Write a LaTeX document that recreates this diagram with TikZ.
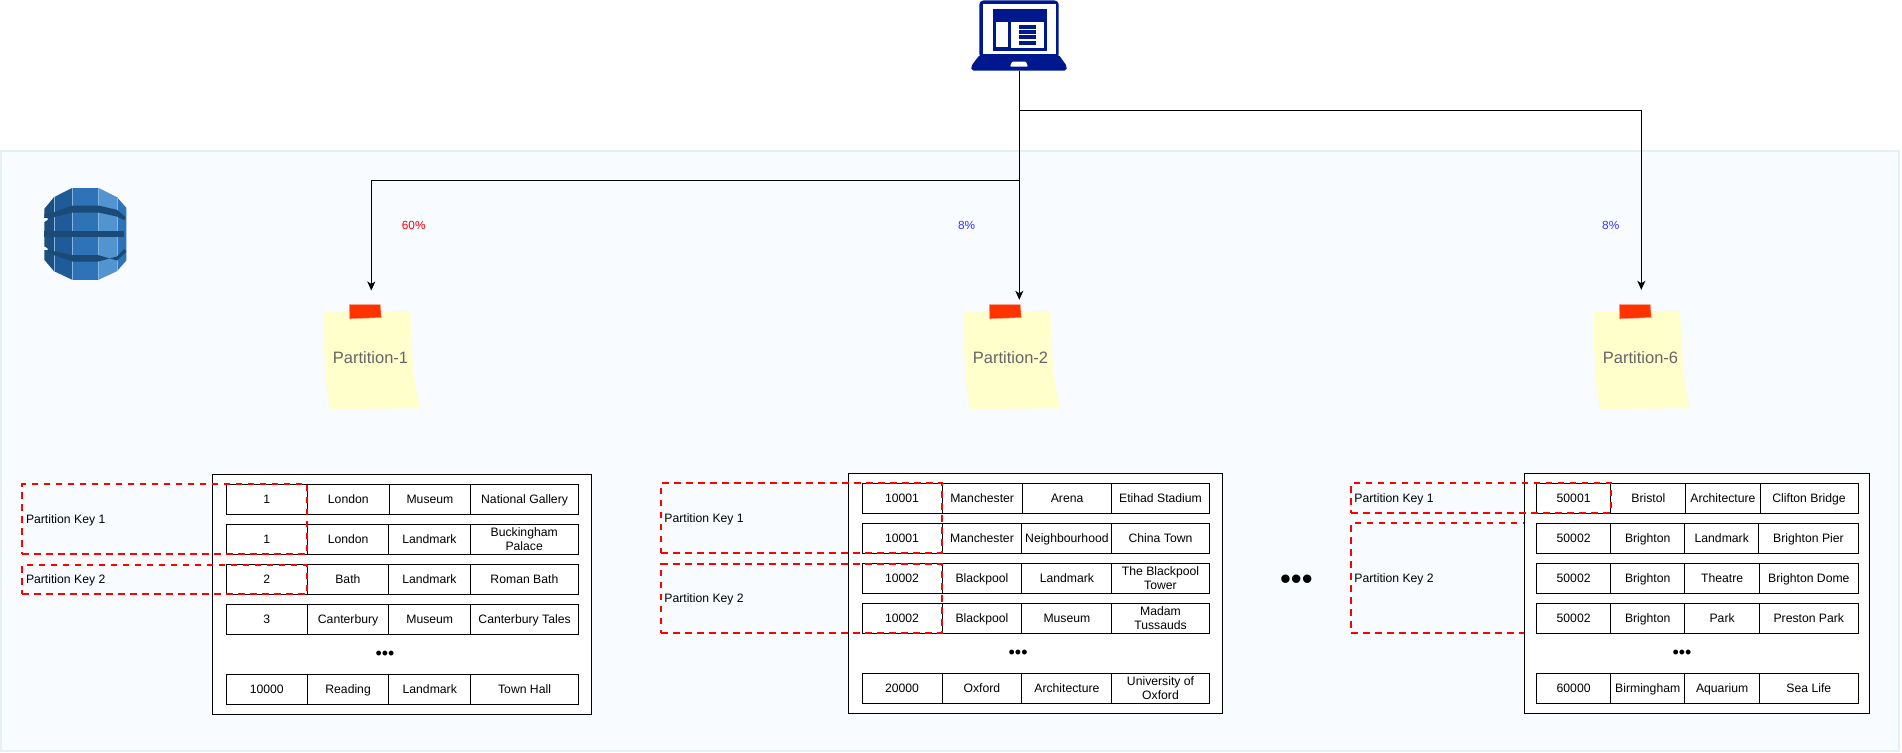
\documentclass[tikz,border=0pt]{standalone}
\usepackage{fontspec}
\setmainfont{Liberation Sans}
\usetikzlibrary{arrows.meta}
\definecolor{panelfill}{HTML}{F8FBFF}
\definecolor{panelline}{HTML}{E6EEF8}
\definecolor{navy}{HTML}{00188D}
\definecolor{notefill}{HTML}{FFFFCC}
\definecolor{tape}{HTML}{FF3300}
\definecolor{notetext}{HTML}{666666}
\definecolor{pctblue}{HTML}{3333FF}
\definecolor{dbdark}{HTML}{1A4A75}
\definecolor{dbedge}{HTML}{1C4F80}
\definecolor{dbleft}{HTML}{205B99}
\definecolor{dbmid}{HTML}{2E73B8}
\definecolor{dblight}{HTML}{5294CF}
\newcommand{\mystrut}{\rule[-2.6pt]{0pt}{14pt}}
\tikzset{
  cell/.style={draw=black,line width=1pt,fill=white,inner sep=0pt,outer sep=0pt,align=center,anchor=north west,
    font=\fontsize{12.2}{14}\selectfont},
  outerbox/.style={draw=black,line width=1pt,fill=white,inner sep=0pt,outer sep=0pt,anchor=north west},
  keybox/.style={draw=red,line width=2pt,dash pattern=on 6.5pt off 5.5pt,inner sep=0pt,outer sep=0pt,anchor=north west},
  keylabel/.style={anchor=west,inner sep=0pt,outer sep=0pt,font=\fontsize{12.2}{14}\selectfont},
  conn/.style={draw=black,line width=1pt,-{Stealth[length=9pt,width=8pt,inset=2.5pt]}},
  pct/.style={inner sep=0pt,outer sep=0pt,font=\fontsize{11.8}{14}\selectfont},
  notetxt/.style={inner sep=0pt,outer sep=0pt,text=notetext,font=\fontsize{16.5}{20}\selectfont},
  dots/.style={inner sep=0pt,outer sep=0pt,font=\fontsize{18}{18}\selectfont},
  bigdots/.style={inner sep=0pt,outer sep=0pt,font=\fontsize{31}{31}\selectfont},
}
% \trow{prefix}{y}{x0}{x1}{x2}{x3}{x4}{a}{b}{c}{d}
\newcommand{\trow}[9]{%
  \def\myrp{#1}\def\myry{#2}\def\myxa{#3}\def\myxb{#4}\def\myxc{#5}\def\myxd{#6}\def\myxe{#7}%
  \def\myta{#8}\def\mytb{#9}\trowcont}
\newcommand{\trowcont}[2]{%
  \pgfmathsetmacro{\mywa}{\myxb-\myxa}\pgfmathsetmacro{\mywb}{\myxc-\myxb}%
  \pgfmathsetmacro{\mywc}{\myxd-\myxc}\pgfmathsetmacro{\mywd}{\myxe-\myxd}%
  \node[cell,minimum height=30pt,minimum width=\mywa pt] (\myrp a) at (\myxa,\myry) {\mystrut\myta};
  \node[cell,minimum height=30pt,minimum width=\mywb pt] (\myrp b) at (\myxb,\myry) {\mystrut\mytb};
  \node[cell,minimum height=30pt,minimum width=\mywc pt] (\myrp c) at (\myxc,\myry) {\mystrut#1};
  \node[cell,minimum height=30pt,minimum width=\mywd pt] (\myrp d) at (\myxd,\myry) {\mystrut#2};
}
% \stickynote{name}{dx}{text}
\newcommand{\stickynote}[3]{%
  \begin{scope}[xshift=#2pt]
    \fill[notefill] (324,312) .. controls (323,345) and (325,382) .. (330,409)
      -- (420,408.3) .. controls (414,385) and (411,350) .. (410.3,310.7) -- cycle;
    \path[fill=tape,draw=tape!50!white,line width=0.5pt] (349.3,304.5) -- (380.3,304.5) -- (381.3,317.5) -- (349.7,318.8) -- cycle;
    \node[notetxt] (#1) at (370.5,357.7) {#3};
  \end{scope}}
\begin{document}
\begin{tikzpicture}[x=1pt,y=-1pt]
\useasboundingbox (0,0) rectangle (1902,752);
\fill[white] (0,0) rectangle (1902,752);
% panel
\node[draw=panelline,fill=panelfill,line width=2pt,inner sep=0pt,outer sep=0pt,anchor=north west,minimum width=1898pt,minimum height=600.5pt] (panel) at (1,150.5) {};

% laptop
\fill[navy,rounded corners=4pt] (979.3,0.5) rectangle (1058.7,58);
\fill[white] (982.7,4) rectangle (1056,54.5);
\fill[navy] (992.7,9.3) rectangle (1047,51);
\fill[white] (995.7,21.7) rectangle (1007.7,47.3);
\fill[white] (1011,21.7) rectangle (1044.3,47.7);
\fill[navy] (1019.3,25) rectangle (1036.3,29);
\fill[navy] (1019.3,30.3) rectangle (1036.3,34.3);
\fill[navy] (1019.3,35.3) rectangle (1036.3,39.3);
\fill[navy] (1019.3,40.7) rectangle (1036.3,44.7);
\fill[navy,rounded corners=2pt] (980,54.5) -- (1058.5,54.5) -- (1066.8,66) -- (1066.5,70.7) -- (971.5,70.7) -- (971.2,66) -- cycle;
\fill[white,rounded corners=1pt] (1012,61.7) -- (1026,61.7) -- (1028,66.7) -- (1010,66.7) -- cycle;
\node[inner sep=0pt,outer sep=0pt,minimum width=95pt,minimum height=70.4pt] (laptop) at (1019.3,35.5) {};

% database icon
\begin{scope}[shift={(35pt,-180.5pt)},x=0.33333pt,y=-0.33333pt]
  \fill[dbedge] (28,85) -- (57,50) -- (57,272) -- (28,238) -- cycle;
  \fill[dbleft] (57,50) -- (112,22) -- (112,298) -- (57,272) -- cycle;
  \fill[dbmid] (112,22) -- (190,22) -- (190,298) -- (112,298) -- cycle;
  \fill[dblight] (190,22) -- (246,50) -- (246,272) -- (190,298) -- cycle;
  \fill[dbmid] (246,50) -- (274,82) -- (274,240) -- (246,272) -- cycle;
  \draw[dblight!70!white,line width=0.5pt] (57,50) -- (57,272) (112,22) -- (112,298) (190,22) -- (190,298) (246,50) -- (246,272);
  \fill[dbdark] (28,100) -- (57,95) -- (112,75) -- (190,75) -- (246,88) -- (272,110) -- (268,119) -- (246,108) -- (190,96) -- (112,96) -- (57,110) -- (28,113) -- cycle;
  \fill[dbdark] (28,151) -- (268,151) -- (268,169) -- (28,169) -- cycle;
  \fill[dbdark] (28,210) -- (57,224) -- (112,243) -- (190,243) -- (246,228) -- (268,205) -- (274,214) -- (246,240) -- (190,224) -- (112,224) -- (57,212) -- (28,206) -- cycle;
  \fill[panelfill] (26,113) -- (38,113) -- (38,118) -- (28,124) -- (26,124) -- cycle;
  \fill[panelfill] (26,198) -- (28,198) -- (38,204) -- (38,209) -- (26,209) -- cycle;
\end{scope}

% sticky notes
\stickynote{part1}{0}{Partition-1}
\stickynote{part2}{640}{Partition-2}
\stickynote{part6}{1270}{Partition-6}

% connectors
\coordinate (jl) at (1019.3,180.3);
\coordinate (jr) at (1019.3,110);
\coordinate (in1) at (371.3,290.5);
\coordinate (in2) at (1019.3,299.8);
\coordinate (in6) at (1641.3,289.8);
\draw[conn] (laptop.south) -- (jl) -| (in1);
\draw[conn] (laptop.south) -- (in2);
\draw[conn] (laptop.south) -- (jr) -| (in6);

% percentages
\node[pct,text=red] (pct1) at (413.7,224.7) {\mystrut 60\%};
\node[pct,text=pctblue] (pct2) at (966.7,225) {\mystrut 8\%};
\node[pct,text=pctblue] (pct6) at (1610.7,225) {\mystrut 8\%};

\begin{scope}[xshift=0.4pt,yshift=-0.7pt]
% table 1
\node[outerbox,minimum width=379.5pt,minimum height=240pt] (tbl1) at (212,473.5) {};
\trow{ra}{483.3}{225.8}{307}{388.8}{470.3}{578}{1}{London}{Museum}{National Gallery}
\trow{rb}{523.3}{225.8}{307}{388.4}{469.6}{578}{1}{London}{Landmark}{Buckingham\\\mystrut Palace}
\trow{rc}{563.3}{225.8}{307}{388}{470}{578}{2}{Bath}{Landmark}{Roman Bath}
\trow{rd}{603.3}{225.8}{307}{388.4}{470.3}{578}{3}{Canterbury}{Museum}{Canterbury Tales}
\trow{re}{673.3}{225.8}{307}{388.4}{470.3}{578}{10000}{Reading}{Landmark}{Town Hall}
\node[dots] (dots1) at (384.6,654.2) {•••};
\node[keybox,minimum width=285pt,minimum height=70pt] (k11) at (22,483.3) {};
\node[keybox,minimum width=285pt,minimum height=29pt] (k12) at (22,564.3) {};
\node[keylabel] (l11) at (25.6,518.7) {\mystrut Partition Key 1};
\node[keylabel] (l12) at (25.6,578.7) {\mystrut Partition Key 2};

% table 2
\node[outerbox,minimum width=373.9pt,minimum height=240pt] (tbl2) at (847.8,472.3) {};
\trow{sa}{482.3}{861.6}{941.6}{1021.9}{1111.5}{1208.7}{10001}{Manchester}{Arena}{Etihad Stadium}
\trow{sb}{522.3}{861.6}{941.6}{1021.5}{1111.5}{1208.7}{10001}{Manchester}{Neighbourhood}{China Town}
\trow{sc}{562.3}{861.6}{941.6}{1021.5}{1111.5}{1208.7}{10002}{Blackpool}{Landmark}{The Blackpool\\\mystrut Tower}
\trow{sd}{602.3}{861.6}{941.6}{1021.5}{1111.5}{1208.7}{10002}{Blackpool}{Museum}{Madam\\\mystrut Tussauds}
\trow{se}{672.3}{861.6}{941.6}{1021.5}{1111.5}{1208.7}{20000}{Oxford}{Architecture}{University of\\\mystrut Oxford}
\node[dots] (dots2) at (1017.7,653.2) {•••};
\node[keybox,minimum width=280.6pt,minimum height=70pt] (k21) at (661,482.3) {};
\node[keybox,minimum width=280.6pt,minimum height=69pt] (k22) at (661,563.3) {};
\node[keylabel] (l21) at (664,517.7) {\mystrut Partition Key 1};
\node[keylabel] (l22) at (664,597.7) {\mystrut Partition Key 2};

% big dots between tables
\node[bigdots] (gap) at (1296,581.2) {•••};

% table 3
\node[keybox,minimum width=190pt,minimum height=110pt] (k32) at (1351,522.3) {};
\node[outerbox,minimum width=345.6pt,minimum height=240pt] (tbl3) at (1523.9,472.3) {};
\trow{ua}{482.3}{1536}{1610.4}{1685.4}{1759.6}{1857.6}{50001}{Bristol}{Architecture}{Clifton Bridge}
\trow{ub}{522.3}{1536}{1610.4}{1684.2}{1758.5}{1857.6}{50002}{Brighton}{Landmark}{Brighton Pier}
\trow{uc}{562.3}{1536}{1610.4}{1684.2}{1759.2}{1857.6}{50002}{Brighton}{Theatre}{Brighton Dome}
\trow{ud}{602.3}{1536}{1610.4}{1684.2}{1759.2}{1857.6}{50002}{Brighton}{Park}{Preston Park}
\trow{ue}{672.3}{1536}{1610.4}{1684.2}{1759.2}{1857.6}{60000}{Birmingham}{Aquarium}{Sea Life}
\node[dots] (dots3) at (1681.6,653.2) {•••};
\node[keybox,minimum width=259.4pt,minimum height=30pt] (k31) at (1351,482.3) {};
\node[keylabel] (l31) at (1354,497.7) {\mystrut Partition Key 1};
\node[keylabel] (l32) at (1354,577.7) {\mystrut Partition Key 2};
\end{scope}
\end{tikzpicture}
\end{document}
